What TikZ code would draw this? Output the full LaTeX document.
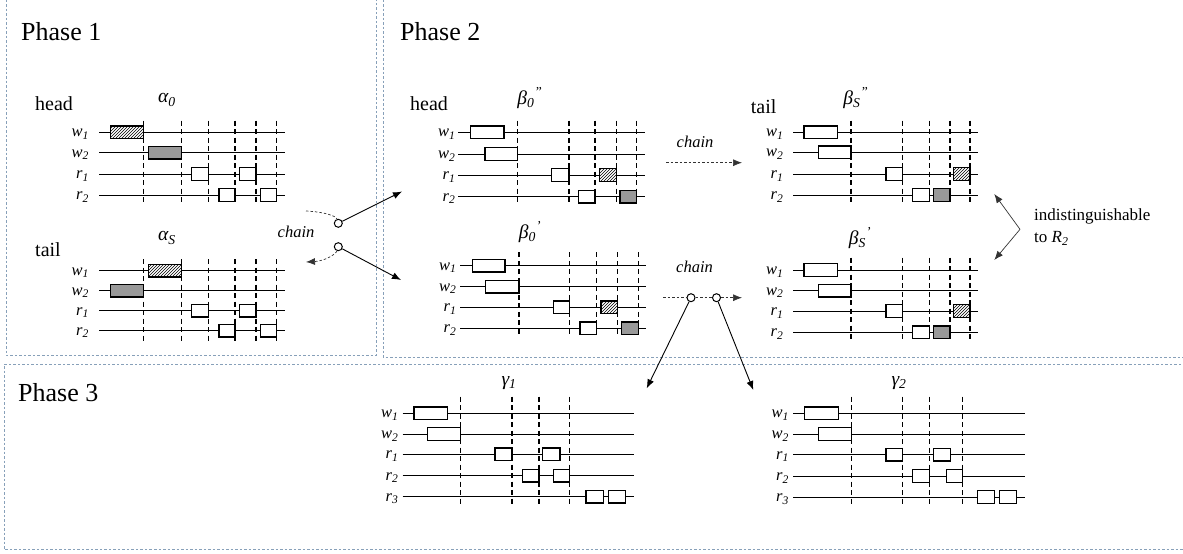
\documentclass[tikz,border=0pt]{standalone}
\usepackage{fontspec}
\setmainfont{Liberation Serif}
\usetikzlibrary{arrows.meta,patterns}
\definecolor{pbord}{RGB}{135,160,185}
\newcommand{\rl}[2]{\textit{#1}\textsubscript{\textit{#2}}}
\newcommand{\trow}[6]{\draw[tl] (#3,#2) -- (#4,#2);\node[rowlab,anchor=base east] (#1) at (#5,#2+4.5) {#6};}
\newcommand{\bx}[4]{\draw[#1] (#2,#4-6.3) rectangle (#3,#4+6.3);}
\newcommand{\dls}[3]{\foreach \xx in {#1} {\draw[dl] (\xx,#2) -- (\xx,#3);}}
\begin{document}
\begin{tikzpicture}[x=1pt,y=-1pt,
 tl/.style={line width=1pt},
 dl/.style={line width=1.3pt, dash pattern=on 5pt off 3.5pt},
 wbox/.style={draw,line width=1.2pt,fill=white},
 hbox/.style={draw,line width=1.2pt,preaction={fill=white},pattern=north east lines},
 gbox/.style={draw,line width=1.2pt,fill=black!40},
 rowlab/.style={inner sep=0pt,font=\fontsize{16.5}{16.5}\selectfont},
 glab/.style={inner sep=0pt,font=\fontsize{19.5}{19.5}\selectfont\itshape},
 ht/.style={inner sep=0pt,font=\fontsize{20}{20}\selectfont,anchor=base west},
 ph/.style={inner sep=0pt,font=\fontsize{26}{26}\selectfont,anchor=base west},
 ch/.style={inner sep=0pt,font=\fontsize{16.5}{16.5}\selectfont\itshape},
 arr/.style={line width=0.9pt,-{Latex[length=9pt,width=7pt]}},
 iarr/.style={line width=0.7pt,black!80,-{Latex[length=9pt,width=7pt]}},
 dpath/.style={line width=0.7pt,black!80,dash pattern=on 2.5pt off 2pt},
 darr/.style={dpath,-{Latex[length=9pt,width=7pt]}},
 jn/.style={circle,draw,fill=white,line width=1pt,inner sep=0pt,minimum size=8pt},
 pb/.style={pbord,line width=0.7pt,dash pattern=on 2.5pt off 2pt}
]
\useasboundingbox (0,0) rectangle (1183,554);
% phase borders
\draw[pb] (6,-5) -- (6,355) -- (376,355) -- (376,-5);
\draw[pb] (383,-5) -- (383,357) -- (1190,357);
\draw[pb] (1190,364) -- (4,364) -- (4,549) -- (1190,549);
\node[ph] (p1) at (21,40) {Phase 1};
\node[ph] (p2) at (400,40) {Phase 2};
\node[ph] (p3) at (18,401) {Phase 3};
% ---------- alpha_0 ----------
\node[ht] (h1) at (35,110) {head};
\node[glab] (al0) at (167,100) {α\textsubscript{0}};
\trow{a0w1}{132.3}{99}{285}{89}{\rl{w}{1}}
\trow{a0w2}{152.7}{99}{285}{89}{\rl{w}{2}}
\trow{a0r1}{174}{99}{285}{89}{\rl{r}{1}}
\trow{a0r2}{195}{99}{285}{89}{\rl{r}{2}}
\bx{hbox}{110.7}{143.3}{132.3}
\bx{gbox}{148.3}{181.7}{152.7}
\bx{wbox}{191.7}{208.3}{174} \bx{wbox}{239.3}{256}{174}
\bx{wbox}{219}{235}{195} \bx{wbox}{260.7}{276.7}{195}
\dls{143.3,181.7,208.3,235,256,276.7}{120.7}{205}
% ---------- alpha_S ----------
\node[ht] (t1) at (35,256.7) {tail};
\node[glab] (alS) at (167,238) {α\textsubscript{S}};
\trow{asw1}{270.7}{99}{285}{89}{\rl{w}{1}}
\trow{asw2}{290.7}{99}{285}{89}{\rl{w}{2}}
\trow{asr1}{310.7}{99}{285}{89}{\rl{r}{1}}
\trow{asr2}{330.7}{99}{285}{89}{\rl{r}{2}}
\bx{hbox}{148.3}{181.7}{270.7}
\bx{gbox}{110.7}{143.3}{290.7}
\bx{wbox}{191.7}{208.3}{310.7} \bx{wbox}{239.3}{256}{310.7}
\bx{wbox}{219}{235}{330.7} \bx{wbox}{260.7}{276.7}{330.7}
\dls{143.3,181.7,208.3,235,256,276.7}{259}{341.7}
% phase 1 chain
\node[ch] (chn1) at (296,232) {chain};
\coordinate (ca) at (306,211);
\node[jn] (c1) at (338.3,223.3) {};
\node[jn] (c2) at (338.3,246.7) {};
\coordinate (cb) at (306,262);
\draw[dpath] (ca) .. controls (325,212) and (336,216) .. (c1);
\draw[darr] (c2) .. controls (336,254) and (325,261) .. (cb);
\coordinate (e1) at (402,191.5);
\coordinate (e2) at (401,280);
\draw[arr] (c1) -- (e1);
\draw[arr] (c2) -- (e2);
% ---------- beta_0'' ----------
\node[ht] (h2) at (410,110) {head};
\node[glab] (b0pp) at (530,98) {β\textsubscript{0}\textsuperscript{”}};
\trow{bhw1}{132.3}{458.3}{645}{455.5}{\rl{w}{1}}
\trow{bhw2}{154}{458.3}{645}{455.5}{\rl{w}{2}}
\trow{bhr1}{175}{458.3}{645}{455.5}{\rl{r}{1}}
\trow{bhr2}{196.7}{458.3}{645}{455.5}{\rl{r}{2}}
\bx{wbox}{470.7}{504}{132.3}
\bx{wbox}{485}{517.7}{154}
\bx{wbox}{551.7}{569}{175} \bx{hbox}{599.3}{616.7}{175}
\bx{wbox}{578.3}{595}{196.7} \bx{gbox}{620}{636.7}{196.7}
\dls{517.7,569,595,616.7,636.7}{120.7}{203}
% ---------- beta_0' ----------
\node[glab] (b0p) at (530,232) {β\textsubscript{0}\textsuperscript{’}};
\trow{bpw1}{265.7}{460}{646}{456.5}{\rl{w}{1}}
\trow{bpw2}{286.7}{460}{646}{456.5}{\rl{w}{2}}
\trow{bpr1}{307.3}{460}{646}{456.5}{\rl{r}{1}}
\trow{bpr2}{328.3}{460}{646}{456.5}{\rl{r}{2}}
\bx{wbox}{472.3}{505}{265.7}
\bx{wbox}{485.7}{519}{286.7}
\bx{wbox}{553.3}{569.3}{307.3} \bx{hbox}{601}{617.3}{307.3}
\bx{wbox}{580}{596.7}{328.3} \bx{gbox}{621.7}{638.3}{328.3}
\dls{519,569.3,596.7,617.3,638.3}{252.3}{336.7}
% ---------- beta_S'' ----------
\node[ht] (t2) at (750.7,113) {tail};
\node[glab] (bSpp) at (856,98) {β\textsubscript{S}\textsuperscript{”}};
\trow{sqw1}{132.3}{793.3}{978}{783.5}{\rl{w}{1}}
\trow{sqw2}{152.3}{793.3}{978}{783.5}{\rl{w}{2}}
\trow{sqr1}{174}{793.3}{978}{783.5}{\rl{r}{1}}
\trow{sqr2}{195}{793.3}{978}{783.5}{\rl{r}{2}}
\bx{wbox}{804}{837.7}{132.3}
\bx{wbox}{818.3}{851}{152.3}
\bx{wbox}{886}{902.3}{174} \bx{hbox}{953.3}{970}{174}
\bx{wbox}{912.7}{929.3}{195} \bx{gbox}{933.3}{950}{195}
\dls{851,902.3,929.3,950,970}{120.7}{203}
% ---------- beta_S' ----------
\node[glab] (bSp) at (860,238) {β\textsubscript{S}\textsuperscript{’}};
\trow{spw1}{270}{793.3}{978}{783.5}{\rl{w}{1}}
\trow{spw2}{290.7}{793.3}{978}{783.5}{\rl{w}{2}}
\trow{spr1}{311}{793.3}{978}{783.5}{\rl{r}{1}}
\trow{spr2}{332.3}{793.3}{978}{783.5}{\rl{r}{2}}
\bx{wbox}{804}{837.7}{270}
\bx{wbox}{818.3}{851}{290.7}
\bx{wbox}{886}{902.3}{311} \bx{hbox}{953.3}{970}{311}
\bx{wbox}{912.7}{929.3}{332.3} \bx{gbox}{933.3}{950}{332.3}
\dls{851,902.3,929.3,950,970}{257.5}{341}
% phase 2 chains
\node[ch] (chn2) at (695,141.7) {chain};
\coordinate (u0) at (666,162.7);
\coordinate (u1) at (742,162.7);
\draw[darr] (u0) -- (u1);
\node[ch] (chn3) at (694.5,266.7) {chain};
\coordinate (l0) at (663,297.7);
\node[jn] (d1) at (691,297.7) {};
\node[jn] (d2) at (716.5,297.7) {};
\coordinate (l1) at (742,297.7);
\draw[dpath] (l0) -- (d1);
\draw[dpath] (d1) -- (d2);
\draw[darr] (d2) -- (l1);
\coordinate (g1t) at (646.7,388.3);
\coordinate (g2t) at (753.3,390);
\draw[arr] (d1) -- (g1t);
\draw[arr] (d2) -- (g2t);
% indistinguishable
\coordinate (iv) at (1020,229.3);
\coordinate (iu) at (994.3,194);
\coordinate (idn) at (994.3,260);
\draw[iarr] (iv) -- (iu);
\draw[iarr] (iv) -- (idn);
\node[inner sep=0pt,anchor=west,align=left,font=\fontsize{17}{21.7}\selectfont] (ind) at (1034,227) {indistinguishable\\to \rl{R}{2}};
% ---------- gamma_1 ----------
\node[glab] (g1) at (509,383) {γ\textsubscript{1}};
\trow{g1w1}{413.3}{402.7}{634}{398.5}{\rl{w}{1}}
\trow{g1w2}{434}{402.7}{634}{398.5}{\rl{w}{2}}
\trow{g1r1}{454.3}{402.7}{634}{398.5}{\rl{r}{1}}
\trow{g1r2}{475.7}{402.7}{634}{398.5}{\rl{r}{2}}
\trow{g1r3}{496.7}{402.7}{634}{398.5}{\rl{r}{3}}
\bx{wbox}{414}{447.3}{413.3}
\bx{wbox}{427.7}{460.7}{434}
\bx{wbox}{495}{512}{454.3} \bx{wbox}{542.7}{560}{454.3}
\bx{wbox}{522.7}{539}{475.7} \bx{wbox}{553.3}{569.3}{475.7}
\bx{wbox}{586}{603.3}{496.7} \bx{wbox}{608.3}{625.7}{496.7}
\dls{460.7,512,539,569.3}{396.7}{505}
% ---------- gamma_2 ----------
\node[glab] (g2) at (899,383) {γ\textsubscript{2}};
\trow{g2w1}{413.3}{793.3}{1025}{789}{\rl{w}{1}}
\trow{g2w2}{434}{793.3}{1025}{789}{\rl{w}{2}}
\trow{g2r1}{454.7}{793.3}{1025}{789}{\rl{r}{1}}
\trow{g2r2}{476}{793.3}{1025}{789}{\rl{r}{2}}
\trow{g2r3}{497}{793.3}{1025}{789}{\rl{r}{3}}
\bx{wbox}{804.3}{838.3}{413.3}
\bx{wbox}{818.3}{851.7}{434}
\bx{wbox}{886}{902.7}{454.7} \bx{wbox}{933.3}{950.7}{454.7}
\bx{wbox}{912.7}{929.3}{476} \bx{wbox}{946.7}{962.7}{476}
\bx{wbox}{977.3}{994.3}{497} \bx{wbox}{999.3}{1016.7}{497}
\dls{851.7,902.7,929.3,962.7}{396.7}{505}
\end{tikzpicture}
\end{document}
